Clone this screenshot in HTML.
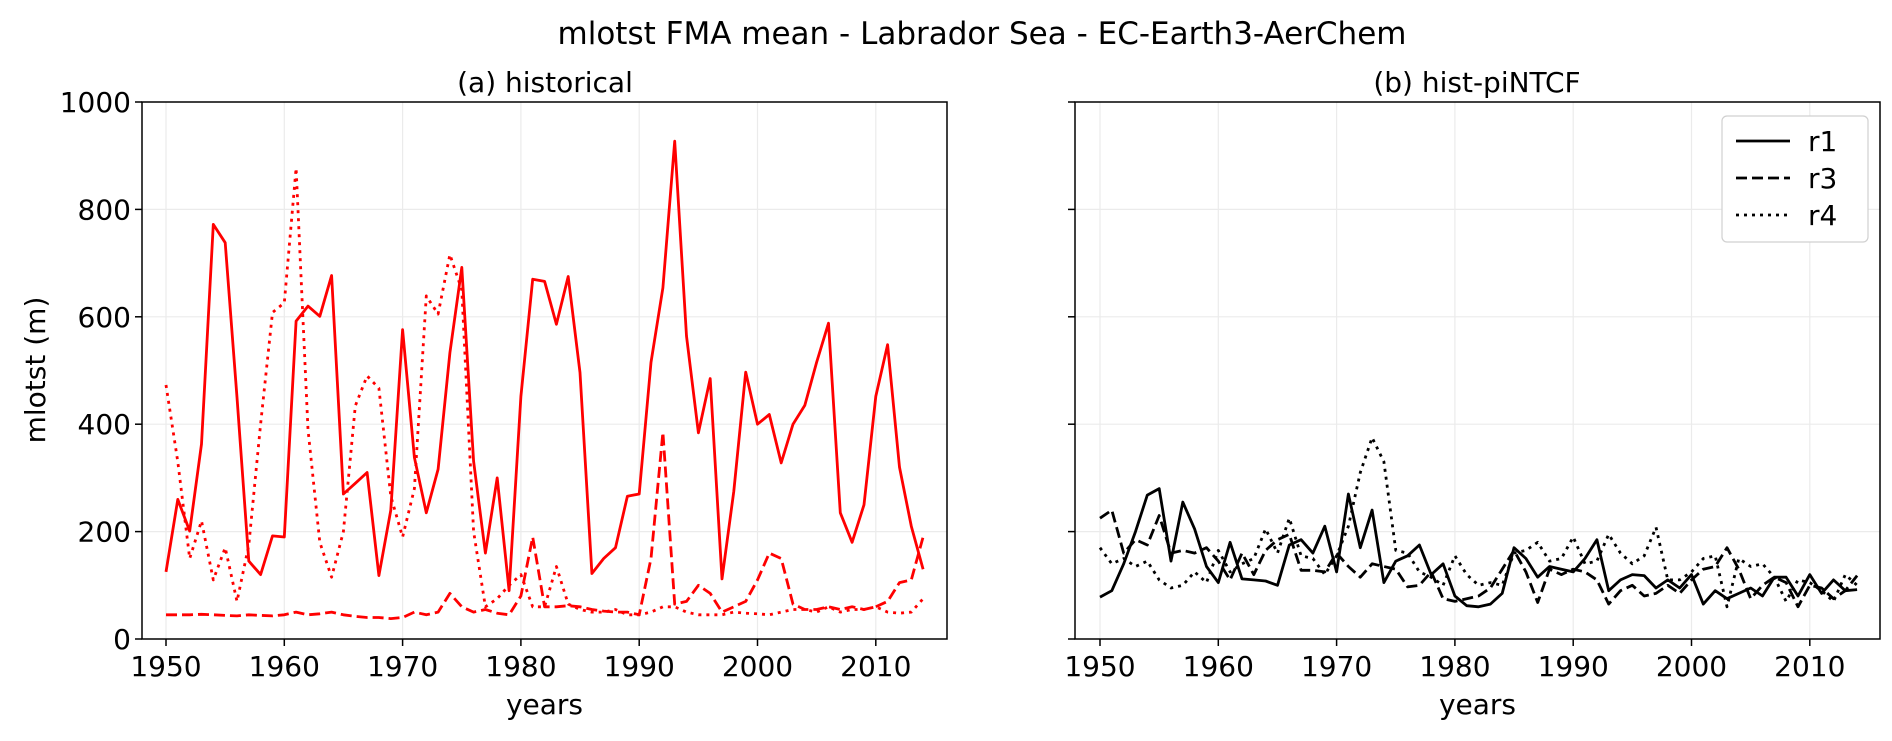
<!DOCTYPE html>
<html><head><meta charset="utf-8"><style>
body{margin:0;background:#fff}
svg text{font-family:"DejaVu Sans","Liberation Sans",sans-serif;fill:#000}
</style></head><body>
<svg id="fig" width="1892" height="736" xmlns="http://www.w3.org/2000/svg">
<text x="982" y="44" font-size="31" text-anchor="middle">mlotst FMA mean - Labrador Sea - EC-Earth3-AerChem</text>
<text x="545" y="92" font-size="28" text-anchor="middle">(a) historical</text>
<text x="1477" y="92" font-size="28" text-anchor="middle">(b) hist-piNTCF</text>
<text x="0" y="0" font-size="28" text-anchor="middle" transform="translate(45,370) rotate(-90)">mlotst (m)</text>
<g id="plots"></g>
</svg>
<script>
const years = Array.from({length:65},(_,i)=>1950+i);
const histR1 = [125,260,201,363,772,738,450,145,120,192,190,592,620,601,677,270,290,310,118,240,576,338,235,316,533,692,331,160,300,90,452,670,666,586,675,496,122,150,170,266,270,515,654,927,564,384,485,112,275,497,400,418,328,400,435,515,588,235,180,250,452,548,320,210,130];
const histR3 = [45,45,45,46,45,44,43,45,44,43,45,50,45,47,50,45,42,40,40,38,40,50,45,50,85,60,50,55,48,45,80,190,60,60,62,60,55,52,50,50,45,150,385,65,70,100,85,50,60,70,110,160,150,65,55,55,60,55,60,55,60,70,105,110,190];
const histR4 = [473,330,150,220,110,170,70,175,400,608,626,877,390,180,115,200,434,490,467,266,190,280,639,605,716,650,200,60,75,100,120,60,60,135,65,55,50,50,55,45,45,50,60,60,50,45,45,45,50,48,47,45,50,55,55,50,60,50,55,55,60,50,48,50,75];
const ntR1 = [78,90,140,200,268,280,145,255,205,135,105,180,112,110,108,100,175,185,160,210,125,270,170,240,105,145,155,175,120,140,80,62,60,65,85,170,150,115,135,130,125,150,185,90,110,120,118,95,110,95,120,65,90,75,85,95,80,115,115,80,120,85,110,90,92];
const ntR3 = [225,240,160,185,175,230,160,165,160,170,145,110,160,120,165,185,195,128,128,125,160,135,115,140,135,130,97,100,125,75,70,75,80,95,130,165,125,68,130,120,130,125,110,65,90,100,80,85,100,85,110,130,135,170,130,75,100,115,105,60,100,95,75,90,118];
const ntR4 = [170,140,150,135,145,110,95,100,125,105,165,125,140,150,205,160,225,155,150,120,155,210,310,375,330,165,160,125,115,100,155,120,100,105,100,160,165,180,145,150,190,140,145,195,160,140,155,208,110,110,125,150,155,60,150,135,140,115,70,110,105,90,70,120,100];
const xTicks = [1950,1960,1970,1980,1990,2000,2010];
const yTicks = [0,200,400,600,800,1000];
const legendLabels = ["r1","r3","r4"];

const NS="http://www.w3.org/2000/svg";
const g=document.getElementById('plots');
const yTop=102,yBot=639;
const yS=v=>yBot-(v/1000)*(yBot-yTop);
function mk(tag,attrs,parent){const e=document.createElementNS(NS,tag);for(const k in attrs)e.setAttribute(k,attrs[k]);(parent||g).appendChild(e);return e;}
const styles={solid:"none",dashed:"11,5",dotted:"3,5"};
function panel(x0,x1,y1950,series,color,showYLabels,pname){
  const xS=yr=>y1950+(yr-1950)*11.83;
  const pg=mk('g',{});
  
  
  xTicks.forEach(t=>{
    const gl=mk('line',{x1:xS(t),x2:xS(t),y1:yTop,y2:yBot,stroke:'#ebebeb','stroke-width':1.2},pg);
    
    
    const tk=mk('line',{x1:xS(t),x2:xS(t),y1:yBot,y2:yBot+7,stroke:'#000','stroke-width':1.5},pg);
    
    
    const tl=mk('text',{x:xS(t),y:676,'font-size':28,'text-anchor':'middle'},pg);tl.textContent=t;
    
    
  });
  yTicks.forEach(t=>{
    if(t>0&&t<1000){const gl=mk('line',{x1:x0,x2:x1,y1:yS(t),y2:yS(t),stroke:'#ebebeb','stroke-width':1.2},pg);
    
    }
    const tk=mk('line',{x1:x0-7,x2:x0,y1:yS(t),y2:yS(t),stroke:'#000','stroke-width':1.5},pg);
    
    
    if(showYLabels){const tl=mk('text',{x:x0-11,y:yS(t)+10,'font-size':28,'text-anchor':'end'},pg);tl.textContent=t;
    
    }
  });
  series.forEach(([vals,sty,nm])=>{
    const d=vals.map((v,i)=>(i?'L':'M')+xS(years[i]).toFixed(1)+','+yS(v).toFixed(1)).join(' ');
    const p=mk('path',{d:d,fill:'none',stroke:color,'stroke-width':2.8,'stroke-dasharray':styles[sty],'stroke-linejoin':'round'},pg);
    
    
  });
  const fr=mk('rect',{x:x0,y:yTop,width:x1-x0,height:yBot-yTop,fill:'none',stroke:'#000','stroke-width':1.5},pg);
  
  
  const xl=mk('text',{x:(x0+x1)/2,y:714,'font-size':28,'text-anchor':'middle'},pg);xl.textContent='years';
  
  
}
panel(142,947,166,[[histR1,'solid','line-hist-r1'],[histR3,'dashed','line-hist-r3'],[histR4,'dotted','line-hist-r4']],'#ff0000',true,'panel-historical');
panel(1075,1880,1100,[[ntR1,'solid','line-ntcf-r1'],[ntR3,'dashed','line-ntcf-r3'],[ntR4,'dotted','line-ntcf-r4']],'#000',false,'panel-hist-pintcf');

const lg=mk('g',{});


const lb=mk('rect',{x:1722,y:116,width:146,height:126,rx:5,fill:'#fff',stroke:'#d0d0d0','stroke-width':1.2},lg);


['solid','dashed','dotted'].forEach((s,i)=>{
  const y=141+i*37;
  const ln=mk('line',{x1:1736,x2:1790,y1:y,y2:y,stroke:'#000','stroke-width':2.8,'stroke-dasharray':styles[s]},lg);
  
  
  const t=mk('text',{x:1808,y:y+10,'font-size':28},lg);t.textContent=legendLabels[i];
  
  
});
</script>
</body></html>
